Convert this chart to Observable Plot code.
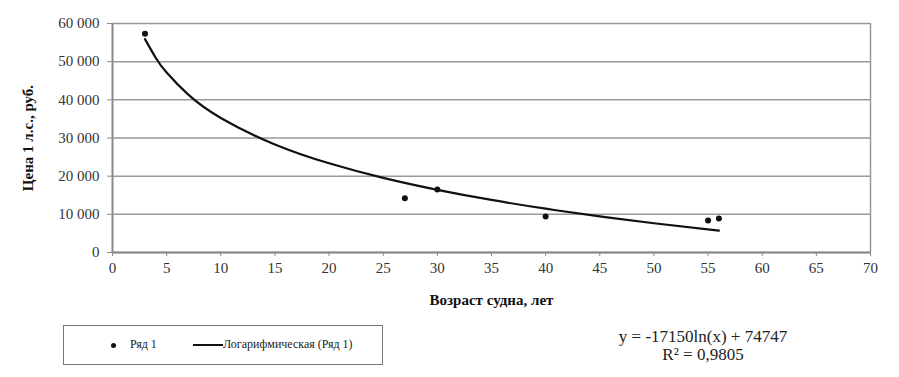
<!DOCTYPE html>
<html>
<head>
<meta charset="utf-8">
<script src="https://cdn.jsdelivr.net/npm/d3@7"></script>
<script src="https://cdn.jsdelivr.net/npm/@observablehq/plot@0.6"></script>
<style>
  html, body { margin: 0; padding: 0; background: white; }
  #wrap { position: relative; width: 899px; height: 377px; font-family: "Liberation Serif", "Times New Roman", serif; color: #222; }
  #chart svg, #chart svg text { font-family: "Liberation Serif", "Times New Roman", serif !important; }
  #chart svg { font-size: 15px !important; }
  svg [aria-label="x-axis label"] text, svg [aria-label="y-axis label"] text { font-weight: bold; fill: #111; }
  #legend { position: absolute; left: 63px; top: 325px; width: 320px; height: 40px; border: 1px solid #777; box-sizing: border-box; font-size: 12px; }
  #legend .dot { position: absolute; left: 47px; top: 17px; width: 5px; height: 5px; border-radius: 50%; background: #111; }
  #legend .t1 { position: absolute; left: 66px; top: 11px; }
  #legend .ln { position: absolute; left: 129px; top: 18px; width: 30px; height: 2px; background: #111; }
  #legend .t2 { position: absolute; left: 159px; top: 11px; }
  #eq { position: absolute; left: 603px; top: 328px; width: 200px; text-align: center; font-size: 17px; line-height: 18px; }
</style>
</head>
<body>
<div id="wrap">
  <div id="chart"></div>
  <div id="legend"><span class="dot"></span><span class="t1">Ряд 1</span><span class="ln"></span><span class="t2">Логарифмическая (Ряд 1)</span></div>
  <div id="eq">y = -17150ln(x) + 74747<br>R² = 0,9805</div>
</div>
<script>
const ages = [3, 27, 30, 40, 55, 56];
const prices = [57300, 14200, 16500, 9400, 8400, 8900];
const trendAges = [3, 4, 5, 7, 10, 15, 20, 25, 30, 35, 40, 45, 50, 56];
const trendPrices = [55900, 50970, 47150, 41370, 35260, 28300, 23370, 19540, 16420, 13770, 11480, 9460, 7660, 5710];
const xTicks = [0, 5, 10, 15, 20, 25, 30, 35, 40, 45, 50, 55, 60, 65, 70];
const yTicks = [0, 10000, 20000, 30000, 40000, 50000, 60000];

const points = ages.map((a, i) => ({age: a, price: prices[i]}));
const trend = trendAges.map((a, i) => ({age: a, price: trendPrices[i]}));
const fmt = d => d3.format(",")(d).replace(/,/g, " ");

const chart = Plot.plot({
  width: 899,
  height: 318,
  marginLeft: 112,
  marginRight: 29,
  marginTop: 23,
  marginBottom: 66,
  style: {fontFamily: "'Liberation Serif', 'Times New Roman', serif", fontSize: "15px", color: "#333", background: "white"},
  x: {domain: [0, 70]},
  y: {domain: [0, 60000]},
  marks: [
    Plot.gridY(yTicks, {stroke: "#999", strokeOpacity: 1, strokeWidth: 1.5}),
    Plot.ruleX([70], {stroke: "#999", strokeWidth: 1.5}),
    Plot.ruleX([0], {stroke: "#888", strokeWidth: 2}),
    Plot.ruleY([0], {stroke: "#888", strokeWidth: 2}),
    Plot.axisX({ticks: xTicks, tickSize: 4, tickPadding: 6, stroke: "#888", fontSize: 15, label: "Возраст судна, лет", labelAnchor: "center", labelOffset: 52, labelArrow: "none"}),
    Plot.axisY({ticks: yTicks, tickSize: 5, tickPadding: 8, stroke: "#888", fontSize: 15, tickFormat: fmt, label: "Цена 1 л.с., руб.", labelAnchor: "center", labelOffset: 90, labelArrow: "none"}),
    Plot.line(trend, {x: "age", y: "price", curve: "natural", stroke: "#111", strokeWidth: 2.2}),
    Plot.dot(points, {x: "age", y: "price", r: 3, fill: "#111", stroke: "none"})
  ]
});
document.getElementById("chart").appendChild(chart);
</script>
</body>
</html>
